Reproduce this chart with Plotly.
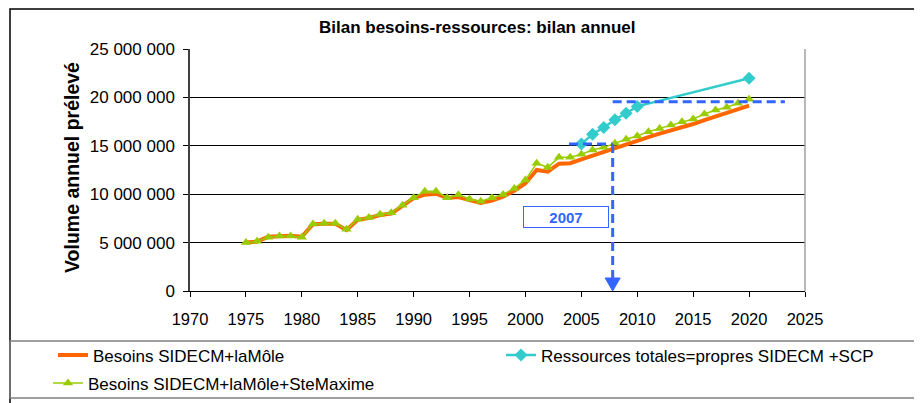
import plotly.graph_objects as go

# ---------------- data ----------------
years = list(range(1975, 2021))

besoins_sidecm_lamole = [
    5.00e6, 5.10e6, 5.60e6, 5.70e6, 5.70e6, 5.60e6, 6.90e6, 6.95e6, 6.95e6, 6.30e6,
    7.35e6, 7.55e6, 7.85e6, 8.00e6, 8.80e6, 9.60e6, 9.95e6, 10.05e6, 9.60e6, 9.70e6,
    9.40e6, 9.10e6, 9.35e6, 9.75e6, 10.35e6, 11.13e6, 12.50e6, 12.33e6, 13.15e6, 13.20e6,
    13.60e6, 14.00e6, 14.39e6, 14.80e6, 15.20e6, 15.55e6, 15.90e6, 16.25e6, 16.55e6, 16.87e6,
    17.25e6, 17.65e6, 18.00e6, 18.40e6, 18.75e6, 19.15e6,
]

besoins_avec_stemaxime = [
    5.00e6, 5.13e6, 5.55e6, 5.68e6, 5.68e6, 5.55e6, 6.92e6, 6.99e6, 6.99e6, 6.37e6,
    7.40e6, 7.60e6, 7.92e6, 8.09e6, 8.85e6, 9.64e6, 10.30e6, 10.30e6, 9.64e6, 9.95e6,
    9.50e6, 9.27e6, 9.64e6, 9.98e6, 10.60e6, 11.47e6, 13.19e6, 12.78e6, 13.81e6, 13.81e6,
    14.12e6, 14.57e6, 14.84e6, 15.26e6, 15.67e6, 16.01e6, 16.46e6, 16.80e6, 17.15e6, 17.49e6,
    17.77e6, 18.29e6, 18.70e6, 18.98e6, 19.39e6, 19.80e6,
]

ressources_years = [2005, 2006, 2007, 2008, 2009, 2010, 2020]
ressources_totales = [15.19e6, 16.20e6, 16.90e6, 17.70e6, 18.36e6, 19.07e6, 21.97e6]

x_tick_vals = list(range(1970, 2030, 5))
y_tick_vals = [0, 5e6, 10e6, 15e6, 20e6, 25e6]

names = [
    "Besoins SIDECM+laMôle",
    "Ressources totales=propres SIDECM +SCP",
    "Besoins SIDECM+laMôle+SteMaxime",
]

# annotation guide values
guide_year = 2007.8
guide_start_year = 2003.9
guide_end_year = 2023.2
level_2007 = 15.19e6
level_2020 = 19.56e6
label_text = "2007"
label_year = 2003.63
label_value = 7.68e6

FONT = "Liberation Sans, Arial, sans-serif"
ORANGE = "#FF6600"
GREEN = "#99CC00"
CYAN = "#33CCCC"
BLUE = "#3366FF"

fig = go.Figure()

fig.add_trace(go.Scatter(
    x=years, y=besoins_sidecm_lamole, name=names[0], mode="lines",
    line=dict(color=ORANGE, width=4), legend="legend",
))
fig.add_trace(go.Scatter(
    x=years, y=besoins_avec_stemaxime, name=names[2], mode="lines+markers",
    line=dict(color=GREEN, width=1.5),
    marker=dict(symbol="triangle-up", size=9, color=GREEN), legend="legend3",
))
fig.add_trace(go.Scatter(
    x=ressources_years, y=ressources_totales, name=names[1], mode="lines+markers",
    line=dict(color=CYAN, width=2.5),
    marker=dict(symbol="diamond", size=10, color=CYAN), legend="legend2",
))

# page has an 8px body margin: the figure starts at (8, 8) in the window
OFF = 8
W, H = 922 - OFF, 403 - OFF
ML, MT = 190 - OFF, 49 - OFF
PW, PH = 615, 242
MR, MB = W - ML - PW, H - MT - PH


def px(xp):
    return (xp - OFF - ML) / PW


def py(yp):
    return (MT + PH - (yp - OFF)) / PH


shapes = [
    # outer chart frame
    dict(type="rect", xref="paper", yref="paper", x0=px(10), x1=px(940), y0=py(9), y1=py(420),
         line=dict(color="#000000", width=1.5), layer="below"),
    # legend frame
    dict(type="rect", xref="paper", yref="paper", x0=px(10), x1=px(915), y0=py(341), y1=py(398),
         line=dict(color="#808080", width=1.5), layer="below"),
    # right border of plot area
    dict(type="line", xref="paper", yref="paper", x0=1, x1=1, y0=0, y1=1,
         line=dict(color="#A0A0A0", width=1.5)),
    # dashed guides
    dict(type="line", xref="x", yref="y", x0=guide_start_year, x1=guide_year, y0=level_2007, y1=level_2007,
         line=dict(color=BLUE, width=3, dash="9px,5px"), layer="above"),
    dict(type="line", xref="x", yref="y", x0=guide_year, x1=guide_year, y0=level_2007, y1=0.6e6,
         line=dict(color=BLUE, width=3, dash="9px,5px"), layer="above"),
    dict(type="line", xref="x", yref="y", x0=guide_year, x1=guide_end_year, y0=level_2020, y1=level_2020,
         line=dict(color=BLUE, width=3, dash="9px,5px"), layer="above"),
    # arrow head
    dict(type="path", xref="x", yref="y", xsizemode="pixel", ysizemode="pixel",
         xanchor=guide_year, yanchor=0, path="M-7.5,13 L7.5,13 L0,0 Z",
         fillcolor=BLUE, line=dict(color=BLUE, width=1), layer="above"),
]

annotations = [
    dict(text="<b>Bilan besoins-ressources: bilan annuel</b>", xref="paper", yref="paper",
         x=px(477), y=py(28), xanchor="center", yanchor="middle", showarrow=False,
         font=dict(family=FONT, size=17, color="#000000")),
    dict(text="<b>Volume annuel prélevé</b>", xref="paper", yref="paper",
         x=px(72), y=py(168), xanchor="center", yanchor="middle", textangle=-90, showarrow=False,
         font=dict(family=FONT, size=19.5, color="#000000")),
    dict(text="<b>" + label_text + "</b>", xref="x", yref="y", x=label_year, y=label_value,
         xanchor="center", yanchor="middle", showarrow=False, width=84, height=20,
         bordercolor=BLUE, borderwidth=1, borderpad=0, bgcolor="#FFFFFF",
         font=dict(family=FONT, size=15, color=BLUE)),
]

legend_common = dict(orientation="v", xanchor="left", yanchor="top", bgcolor="rgba(0,0,0,0)",
                     borderwidth=0, font=dict(family=FONT, size=17, color="#000000"))

fig.update_layout(
    width=W, height=H,
    margin=dict(l=ML, r=MR, t=MT, b=MB, pad=0, autoexpand=False),
    paper_bgcolor="#FFFFFF", plot_bgcolor="#FFFFFF",
    separators=". ",
    font=dict(family=FONT, size=17, color="#000000"),
    showlegend=True,
    legend=dict(x=px(53), y=py(337.5), **legend_common),
    legend2=dict(x=px(501), y=py(337.5), **legend_common),
    legend3=dict(x=px(48), y=py(365.5), **legend_common),
    xaxis=dict(
        range=[1970, 2025], tickmode="array", tickvals=x_tick_vals,
        ticks="outside", ticklen=5, tickcolor="#000000", tickwidth=1,
        showline=True, linecolor="#000000", linewidth=1,
        showgrid=False, zeroline=False, automargin=False, ticklabelstandoff=8,
        tickfont=dict(family=FONT, size=16.5, color="#000000"),
    ),
    yaxis=dict(
        range=[0, 25e6], tickmode="array", tickvals=y_tick_vals, tickformat=",d",
        ticks="outside", ticklen=5, tickcolor="#000000", tickwidth=1,
        showline=True, linecolor="#404040", linewidth=1.5,
        showgrid=True, gridcolor="#000000", gridwidth=1, zeroline=False, automargin=False,
        ticklabelstandoff=5,
        tickfont=dict(family=FONT, size=17, color="#000000"),
    ),
    shapes=shapes,
    annotations=annotations,
)

fig.write_html("out.html")
